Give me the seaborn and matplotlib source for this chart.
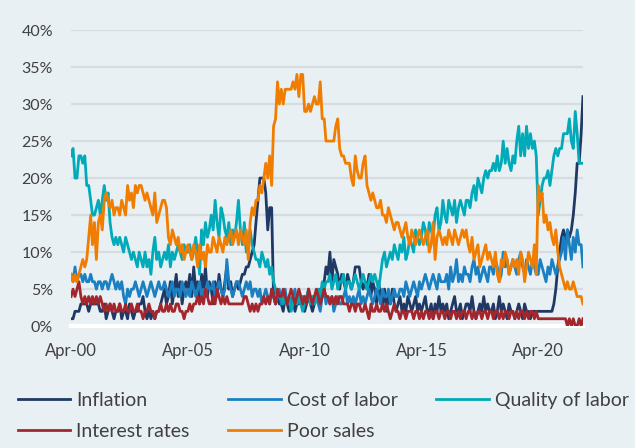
import numpy as np
import pandas as pd
import matplotlib.pyplot as plt
from matplotlib.lines import Line2D
import seaborn as sns

# monthly survey shares (%), Apr-2000 .. Mar-2022, one row of 12 per year
months = pd.date_range('2000-04-01', periods=264, freq='MS')

inflation = [
    1, 1, 2, 2, 2, 3, 3, 3, 3, 2, 3, 3,
    3, 3, 3, 2, 2, 3, 1, 2, 3, 2, 1, 2,
    2, 3, 1, 2, 2, 1, 3, 2, 1, 2, 2, 3,
    3, 4, 2, 1, 2, 1, 2, 1, 2, 2, 3, 4,
    5, 3, 4, 6, 3, 5, 7, 4, 6, 3, 5, 6,
    5, 7, 4, 8, 5, 6, 3, 7, 5, 8, 4, 6,
    5, 3, 6, 4, 7, 5, 4, 6, 8, 5, 6, 4,
    5, 6, 5, 6, 7, 7, 8, 8, 9, 10, 11, 14,
    17, 20, 20, 20, 18, 13, 16, 16, 4, 3, 4, 3,
    3, 2, 4, 3, 2, 3, 4, 2, 3, 3, 4, 3,
    2, 3, 4, 3, 2, 3, 4, 3, 5, 4, 6, 8,
    7, 10, 6, 9, 8, 7, 5, 7, 6, 5, 7, 6,
    5, 6, 8, 8, 8, 6, 5, 6, 5, 7, 4, 6,
    5, 3, 6, 4, 3, 5, 2, 4, 3, 5, 3, 2,
    3, 4, 2, 3, 2, 4, 3, 2, 3, 4, 2, 3,
    2, 3, 4, 2, 2, 3, 1, 3, 2, 4, 2, 3,
    2, 3, 1, 2, 3, 4, 2, 2, 3, 1, 2, 3,
    3, 2, 4, 2, 1, 2, 3, 2, 4, 2, 3, 2,
    2, 3, 1, 2, 4, 2, 3, 2, 1, 3, 2, 2,
    1, 2, 3, 2, 1, 3, 2, 2, 1, 2, 2, 2,
    2, 2, 2, 2, 2, 2, 2, 2, 3, 5, 8, 10,
    12, 13, 11, 13, 12, 13, 15, 18, 22, 22, 26, 31,
]

cost_of_labor = [
    7, 6, 8, 6, 7, 7, 6, 7, 6, 6, 7, 6,
    6, 5, 6, 6, 5, 6, 6, 5, 6, 7, 6, 5,
    6, 5, 6, 4, 3, 5, 4, 5, 5, 6, 5, 4,
    5, 6, 5, 4, 5, 6, 5, 4, 5, 6, 5, 5,
    6, 5, 4, 5, 6, 4, 5, 5, 4, 6, 5, 4,
    5, 4, 6, 5, 4, 5, 6, 4, 5, 4, 6, 5,
    5, 6, 4, 5, 6, 5, 4, 5, 9, 6, 5, 4,
    5, 6, 6, 5, 4, 5, 6, 5, 6, 4, 5, 5,
    4, 5, 3, 4, 5, 4, 3, 5, 4, 3, 4, 5,
    3, 4, 5, 3, 4, 3, 4, 5, 3, 4, 3, 4,
    4, 3, 5, 3, 4, 3, 4, 3, 2, 4, 5, 3,
    4, 3, 4, 2, 3, 4, 3, 3, 4, 5, 3, 4,
    3, 4, 3, 4, 5, 3, 4, 3, 4, 5, 4, 3,
    4, 5, 4, 3, 5, 4, 4, 5, 3, 4, 5, 4,
    4, 5, 5, 4, 6, 5, 4, 5, 6, 5, 4, 6,
    5, 6, 7, 6, 5, 6, 7, 6, 5, 7, 6, 6,
    6, 7, 5, 8, 6, 7, 9, 6, 7, 6, 8, 7,
    7, 6, 8, 9, 7, 8, 6, 7, 8, 7, 6, 8,
    8, 7, 9, 8, 6, 7, 10, 8, 9, 7, 8, 9,
    8, 7, 9, 10, 8, 7, 9, 8, 7, 9, 8, 7,
    7, 9, 8, 7, 6, 8, 7, 9, 8, 7, 8, 9,
    10, 12, 9, 13, 11, 9, 12, 10, 13, 11, 11, 8,
]

quality_of_labor = [
    23, 24, 20, 20, 23, 23, 22, 23, 19, 19, 17, 15,
    15, 16, 17, 15, 17, 19, 17, 18, 14, 12, 11, 12,
    11, 12, 11, 10, 12, 11, 10, 9, 10, 9, 8, 10,
    9, 8, 10, 8, 9, 7, 10, 12, 9, 10, 8, 9,
    10, 9, 11, 8, 10, 9, 10, 11, 10, 9, 11, 10,
    10, 11, 9, 10, 12, 10, 7, 13, 11, 14, 12, 13,
    15, 13, 17, 14, 12, 16, 15, 13, 12, 14, 11, 13,
    12, 14, 17, 13, 11, 14, 10, 12, 13, 11, 10, 9,
    9, 8, 10, 9, 8, 9, 7, 8, 6, 5, 4, 4,
    4, 3, 4, 3, 4, 2, 3, 4, 3, 4, 3, 2,
    3, 4, 5, 3, 4, 3, 4, 5, 4, 6, 5, 6,
    6, 7, 5, 6, 7, 5, 6, 6, 7, 5, 6, 6,
    5, 6, 7, 6, 5, 6, 7, 6, 5, 6, 7, 6,
    7, 6, 5, 7, 9, 10, 8, 9, 10, 9, 11, 10,
    9, 11, 10, 12, 9, 10, 12, 11, 10, 13, 12, 11,
    12, 14, 13, 11, 14, 13, 12, 15, 16, 13, 14, 17,
    15, 14, 17, 16, 15, 17, 14, 16, 17, 16, 15, 17,
    17, 16, 18, 19, 17, 20, 19, 18, 20, 21, 20, 21,
    21, 22, 21, 23, 21, 22, 25, 22, 24, 22, 21, 23,
    22, 25, 27, 23, 26, 23, 27, 24, 26, 24, 25, 23,
    15, 17, 19, 20, 20, 21, 19, 21, 23, 24, 23, 24,
    24, 26, 26, 26, 28, 25, 24, 29, 26, 22, 22, 22,
]

interest_rates = [
    4, 5, 4, 5, 6, 4, 3, 4, 3, 4, 3, 4,
    3, 4, 3, 4, 3, 2, 3, 2, 3, 2, 3, 2,
    2, 3, 2, 2, 3, 2, 2, 3, 2, 2, 3, 2,
    2, 1, 2, 2, 3, 2, 2, 1, 2, 2, 3, 2,
    2, 3, 2, 3, 2, 2, 3, 3, 2, 2, 1, 2,
    2, 3, 2, 3, 3, 4, 3, 4, 3, 5, 4, 3,
    3, 4, 3, 5, 4, 3, 4, 3, 4, 3, 3, 3,
    3, 3, 3, 3, 3, 4, 4, 3, 2, 3, 2, 3,
    2, 3, 3, 4, 3, 4, 3, 5, 4, 3, 5, 4,
    4, 5, 4, 3, 4, 5, 4, 3, 4, 5, 4, 3,
    4, 3, 5, 4, 3, 4, 5, 4, 3, 4, 5, 4,
    4, 3, 4, 3, 4, 3, 4, 4, 3, 3, 3, 2,
    3, 3, 2, 3, 3, 2, 2, 3, 2, 1, 3, 2,
    2, 3, 2, 2, 3, 2, 3, 2, 1, 2, 3, 2,
    2, 1, 2, 2, 1, 2, 2, 2, 1, 2, 2, 1,
    2, 1, 2, 2, 1, 2, 1, 2, 2, 1, 2, 2,
    1, 2, 2, 1, 2, 2, 1, 2, 1, 2, 2, 1,
    2, 2, 1, 2, 1, 2, 2, 1, 2, 2, 1, 2,
    2, 1, 2, 2, 1, 2, 1, 2, 2, 1, 2, 2,
    1, 2, 1, 2, 2, 1, 2, 1, 2, 2, 1, 2,
    1, 1, 1, 1, 1, 1, 1, 1, 1, 1, 1, 1,
    1, 1, 1, 0, 1, 0, 1, 0, 0, 1, 0, 1,
]

poor_sales = [
    7, 6, 7, 6, 7, 8, 9, 8, 9, 12, 15, 11,
    14, 9, 14, 15, 13, 17, 18, 17, 16, 17, 15, 16,
    16, 15, 17, 16, 15, 19, 17, 18, 16, 19, 18, 19,
    19, 18, 17, 18, 17, 16, 15, 18, 14, 15, 16, 17,
    17, 16, 12, 11, 13, 12, 11, 12, 10, 11, 9, 10,
    11, 10, 9, 11, 10, 8, 11, 9, 10, 8, 11, 10,
    10, 12, 11, 10, 12, 11, 10, 12, 11, 12, 13, 11,
    12, 13, 11, 13, 12, 11, 13, 9, 14, 16, 15, 17,
    17, 19, 18, 20, 22, 20, 23, 19, 27, 28, 33, 30,
    32, 30, 32, 32, 32, 32, 33, 32, 34, 31, 34, 34,
    29, 29, 30, 29, 30, 31, 30, 30, 33, 28, 28, 25,
    25, 25, 25, 25, 27, 28, 24, 23, 23, 22, 22, 22,
    20, 19, 23, 21, 20, 20, 22, 23, 19, 18, 17, 18,
    17, 16, 16, 17, 15, 15, 14, 16, 15, 14, 13, 14,
    14, 13, 12, 13, 14, 12, 11, 13, 12, 11, 12, 13,
    12, 11, 12, 13, 10, 11, 14, 9, 12, 13, 12, 11,
    12, 11, 13, 12, 11, 13, 12, 11, 12, 13, 12, 13,
    11, 10, 12, 9, 10, 11, 8, 9, 10, 11, 9, 10,
    9, 8, 10, 7, 6, 9, 8, 10, 9, 7, 8, 9,
    8, 9, 7, 10, 9, 6, 8, 10, 9, 8, 11, 7,
    19, 17, 18, 14, 15, 13, 14, 12, 11, 13, 10, 8,
    7, 6, 5, 6, 5, 5, 6, 5, 4, 4, 4, 3,
]

series_names = ['Inflation', 'Cost of labor', 'Quality of labor', 'Interest rates', 'Poor sales']
series_colors = ['#1f3864', '#1b80c2', '#00aab9', '#a3262d', '#f07d00']
tick_dates = ['2000-04-01', '2005-04-01', '2010-04-01', '2015-04-01', '2020-04-01']
tick_labels = ['Apr-00', 'Apr-05', 'Apr-10', 'Apr-15', 'Apr-20']
y_ticks = [0, 5, 10, 15, 20, 25, 30, 35, 40]

values = [inflation, cost_of_labor, quality_of_labor, interest_rates, poor_sales]
for v in values:
    assert len(v) == len(months), len(v)

df = pd.DataFrame({
    'date': np.tile(months, len(series_names)),
    'series': np.repeat(series_names, len(months)),
    'value': np.concatenate(values),
})

bg = '#e9f0f3'
txt = '#404040'
plt.rcParams['font.family'] = ['Lato', 'DejaVu Sans']

fig = plt.figure(figsize=(6.35, 4.48), dpi=100, facecolor=bg)
ax = fig.add_axes([0.112, 0.272, 0.806, 0.661])
ax.set_facecolor(bg)

palette = dict(zip(series_names, series_colors))
sns.lineplot(data=df, x='date', y='value', hue='series', hue_order=series_names,
             palette=palette, estimator=None, linewidth=2, legend=False, ax=ax, zorder=3)

ax.set_xlim(months[0], months[-1])
ax.set_ylim(0, 40)
ax.set_xticks(pd.to_datetime(tick_dates), tick_labels)
ax.set_yticks(y_ticks, [f'{t}%' for t in y_ticks])
ax.set_xlabel('')
ax.set_ylabel('')
ax.yaxis.grid(True, color='#d6dde1', linewidth=1.6)
ax.xaxis.grid(False)
ax.set_axisbelow(True)
for s in ['top', 'right', 'left']:
    ax.spines[s].set_visible(False)
ax.spines['bottom'].set_color('white')
ax.spines['bottom'].set_linewidth(3)
ax.tick_params(axis='both', length=0, labelcolor=txt)
ax.tick_params(axis='y', pad=13, labelsize=11.5)
ax.tick_params(axis='x', pad=12, labelsize=12)

# legend: row-major order like the reference
handles = [Line2D([], [], color=c, linewidth=2) for c in series_colors]
order = [0, 3, 1, 4, 2]
fig.legend([handles[i] for i in order], [series_names[i] for i in order],
           loc='upper left', bbox_to_anchor=(0.028, 0.125), ncols=3,
           frameon=False, handlelength=2.7, handletextpad=0.3,
           columnspacing=2.0, labelspacing=0.72, fontsize=14,
           labelcolor=txt, borderpad=0, borderaxespad=0)

fig.savefig('out.png', dpi=100, facecolor=bg)
